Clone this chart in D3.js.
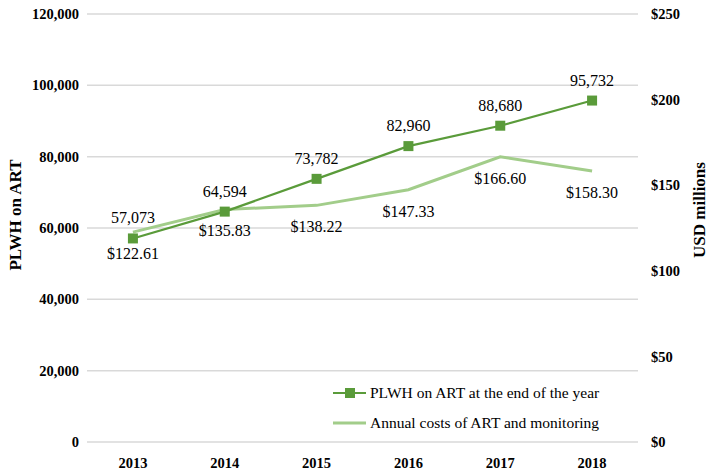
<!DOCTYPE html>
<html><head><meta charset="utf-8">
<script src="https://cdn.jsdelivr.net/npm/d3@7"></script>
<style>body{margin:0;background:#fff}svg{display:block}
svg text{font-family:"Liberation Serif","Times New Roman",Times,"DejaVu Serif",serif !important;}</style>
</head><body>
<script>
const years = ["2013","2014","2015","2016","2017","2018"];
const plwh = [57073, 64594, 73782, 82960, 88680, 95732];
const costs = [122.61, 135.83, 138.22, 147.33, 166.60, 158.30];
const leftTicks = [0,20000,40000,60000,80000,100000,120000];
const rightTicks = [0,50,100,150,200,250];
const seriesNames = ["PLWH on ART at the end of the year","Annual costs of ART and monitoring"];

const W=709,H=470;
const m={left:87,right:71,top:14,bottom:28};
const svg=d3.select("body").append("svg").attr("width",W).attr("height",H);
const x=d3.scaleBand().domain(years).range([m.left,W-m.right]);
const yL=d3.scaleLinear().domain([0,120000]).range([H-m.bottom,m.top]);
const yR=d3.scaleLinear().domain([0,250]).range([H-m.bottom,m.top]);
const cx=d=>x(d)+x.bandwidth()/2;
const fmt=d3.format(",");

// gridlines
svg.append("g").selectAll("line").data(leftTicks).join("line")
 .attr("x1",m.left).attr("x2",W-m.right).attr("y1",d=>yL(d)).attr("y2",d=>yL(d))
 .attr("stroke","#d9d9d9").attr("stroke-width",1.5);

// left axis
const gL=svg.append("g").attr("transform",`translate(${m.left-8},0)`)
 .call(d3.axisLeft(yL).tickValues(leftTicks).tickFormat(fmt).tickSize(0).tickPadding(0));
gL.select(".domain").remove();
gL.selectAll("text").attr("font-size",14.5).attr("font-weight","bold").attr("fill","#000");

// right axis
const gR=svg.append("g").attr("transform",`translate(${W-m.right+13},0)`)
 .call(d3.axisRight(yR).tickValues(rightTicks).tickFormat(d=>"$"+d).tickSize(0).tickPadding(0));
gR.select(".domain").remove();
gR.selectAll("text").attr("font-size",14.5).attr("font-weight","bold").attr("fill","#000");

// x axis
const gX=svg.append("g").attr("transform",`translate(0,${H-m.bottom+16})`)
 .call(d3.axisBottom(x).tickSize(0).tickPadding(0));
gX.select(".domain").remove();
gX.selectAll("text").attr("font-size",14.5).attr("font-weight","bold").attr("fill","#000");

// axis titles
svg.append("text").attr("transform",`translate(21,215) rotate(-90)`).attr("text-anchor","middle")
 .attr("font-size",17).attr("font-weight","bold").text("PLWH on ART");
svg.append("text").attr("transform",`translate(705,210) rotate(-90)`).attr("text-anchor","middle")
 .attr("font-size",17).attr("font-weight","bold").text("USD millions");

const dark="#5a9b3a", light="#a2cd8a";

// cost line
svg.append("path").datum(costs).attr("fill","none").attr("stroke",light).attr("stroke-width",3)
 .attr("d",d3.line().x((d,i)=>cx(years[i])).y(d=>yR(d)));
// plwh line
svg.append("path").datum(plwh).attr("fill","none").attr("stroke",dark).attr("stroke-width",2.2)
 .attr("d",d3.line().x((d,i)=>cx(years[i])).y(d=>yL(d)));
svg.append("g").selectAll("rect").data(plwh).join("rect")
 .attr("x",(d,i)=>cx(years[i])-5).attr("y",d=>yL(d)-5).attr("width",10).attr("height",10).attr("fill",dark);

// labels
svg.append("g").selectAll("text").data(plwh).join("text")
 .attr("x",(d,i)=>cx(years[i])).attr("y",d=>yL(d)-15).attr("text-anchor","middle")
 .attr("font-size",16).text(d=>fmt(d));
svg.append("g").selectAll("text").data(costs).join("text")
 .attr("x",(d,i)=>cx(years[i])).attr("y",d=>yR(d)+27).attr("text-anchor","middle")
 .attr("font-size",16).text(d=>"$"+d.toFixed(2));

// legend
const lg=svg.append("g");
[0,1].forEach(i=>{
  const ly=393+i*30;
  lg.append("line").attr("x1",333).attr("x2",366).attr("y1",ly).attr("y2",ly)
    .attr("stroke",i===0?dark:light).attr("stroke-width",i===0?2.2:3);
  if(i===0) lg.append("rect").attr("x",345).attr("y",ly-5).attr("width",10).attr("height",10).attr("fill",dark);
  lg.append("text").attr("x",370).attr("y",ly+5).attr("font-size",15.5).text(seriesNames[i]);
});
</script>
</body></html>
